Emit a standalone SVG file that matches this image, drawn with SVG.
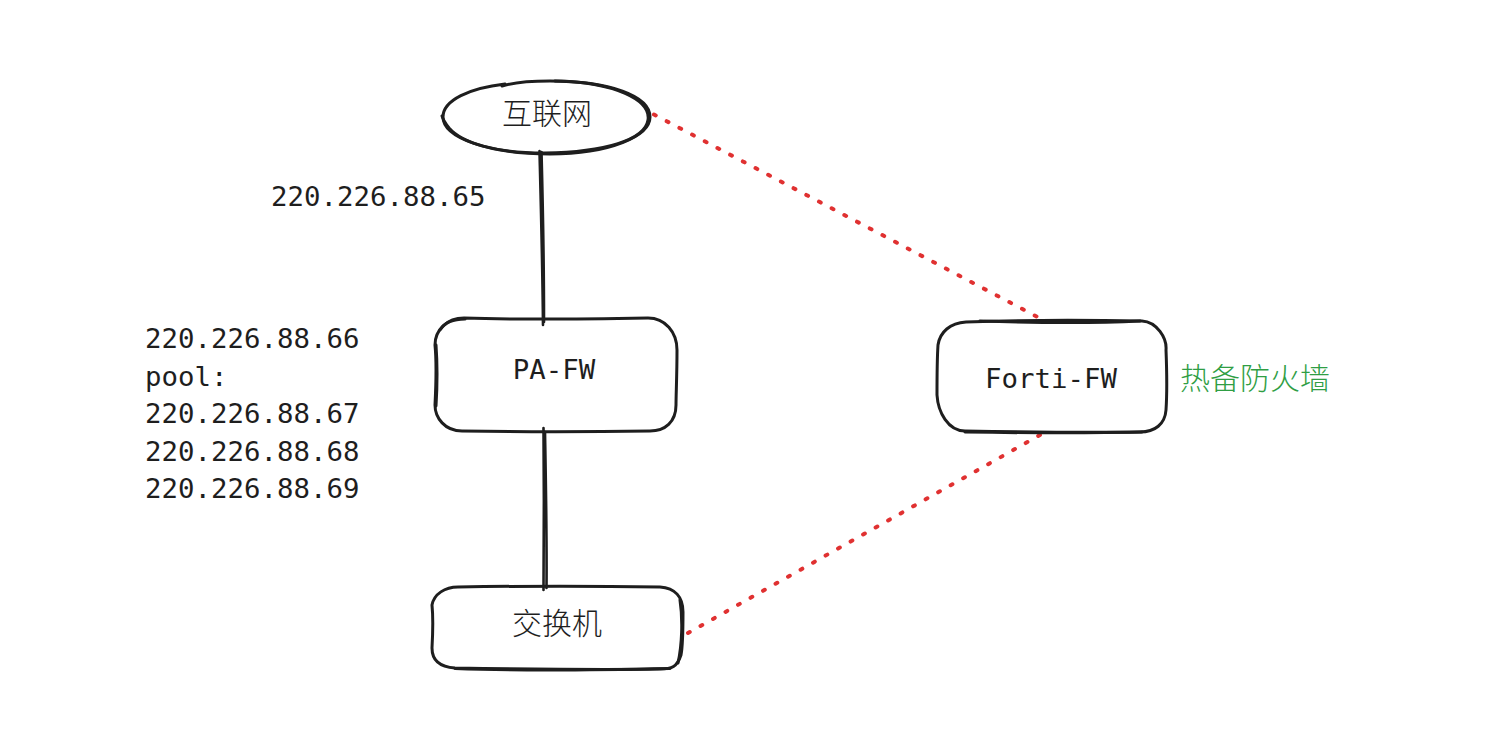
<svg xmlns="http://www.w3.org/2000/svg" width="1509" height="740" viewBox="0 0 1509 740">
<style>
.s{fill:none;stroke:#1e1e1e;stroke-width:3;stroke-linecap:round;stroke-linejoin:round}
.l{fill:none;stroke:#1e1e1e;stroke-width:2.6;stroke-linecap:round}
.d{fill:none;stroke:#e03131;stroke-width:4;stroke-linecap:round;stroke-dasharray:2 12.35}
.m{font-family:"DejaVu Sans Mono",monospace;font-size:27.4px;fill:#1e1e1e}
.c{font-family:"Noto Sans CJK SC",sans-serif;font-size:30px;fill:#1e1e1e;font-weight:300}
</style>
<rect width="1509" height="740" fill="#fff"/>
<g id="connectors">
<path class="l" d="M539.5 151C541 210 542.5 265 543 325M541.5 152C543 210 544 270 544 322"/>
<path class="l" d="M543.5 428C544 480 544 540 543.5 590M545 432C546 490 547 540 546.500 588"/>
<path class="d" d="M654 114.500L1047 322"/>
<path class="d" d="M688 633L1040 435"/>
</g>
<g id="internet">
<path class="s" d="M505 84C470 88 443 100 443 117C443 138 490 154 550 154C610 154 650 136 650 117C650 96 610 81 550 81C530 81 515 82 502 86"/>
<path class="s" d="M555 81C615 82 651 100 648 120C645 140 605 152 545 153C495 153 462 143 449 128C446 124 443 120 442 116"/>
<text class="c" x="547" y="124" text-anchor="middle">互联网</text>
</g>
<g id="pa-fw">
<path class="s" d="M464 318C520 320 590 319 648 318C665 318 677 332 677 350C677 375 676 395 676 405C676 422 665 431 650 431C590 432 520 432 462 431C445 431 435 418 435 405C436 385 437 365 435 345C435 330 447 318 464 318Z"/>
<path class="s" d="M436 345C438 372 437 390 436 406M440 330C445 322 455 319 465 319"/>
<text class="m" x="554" y="379" text-anchor="middle">PA-FW</text>
</g>
<g id="forti-fw">
<path class="s" d="M966 322C1020 320 1090 320 1142 321C1157 322 1167 338 1166 350C1167 375 1167 395 1166 410C1165 424 1155 432 1140 432C1080 433 1020 432 965 431C948 431 938 412 937 395C937 375 937 360 938 345C940 332 950 323 966 322Z"/>
<path class="s" d="M980 321C1040 323 1100 323 1140 321M965 432C1030 433 1100 433 1142 432"/>
<text class="m" x="1051" y="388" text-anchor="middle">Forti-FW</text>
</g>
<g id="switch">
<path class="s" d="M458 587C520 586 600 586 660 587C675 588 683 597 683 612C683 630 683 645 681 655C677 667 672 669 660 669C600 670 520 669 455 668C440 667 432 660 432 648C433 630 433 615 432 605C434 594 445 587 458 587Z"/>
<path class="s" d="M455 668.500C520 671 600 670 670 668.500M680 600C683 620 682 645 678 663"/>
<text class="c" x="557" y="634" text-anchor="middle">交换机</text>
</g>
<g id="labels">
<text class="m" x="271" y="205.500">220.226.88.65</text>
<text class="m"><tspan x="145" y="348">220.226.88.66</tspan><tspan x="145" y="386">pool:</tspan><tspan x="145" y="423">220.226.88.67</tspan><tspan x="145" y="461">220.226.88.68</tspan><tspan x="145" y="498">220.226.88.69</tspan></text>
<text class="c" x="1180" y="388.500" style="fill:#2f9e44">热备防火墙</text>
</g>
</svg>
